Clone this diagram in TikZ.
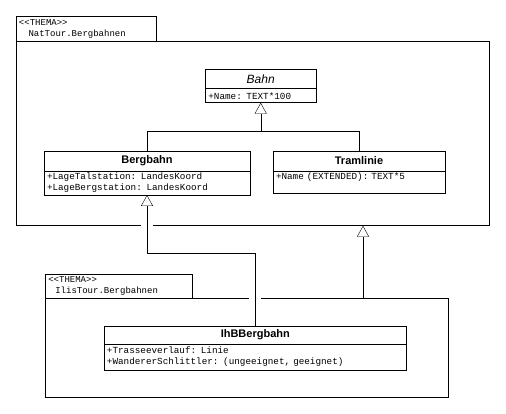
\documentclass[tikz,border=0pt]{standalone}
\usepackage{fontspec}
\setsansfont{Liberation Sans}
\setmonofont{Liberation Mono}
\usetikzlibrary{arrows.meta,positioning}
\pgfdeclarelayer{background}
\pgfdeclarelayer{wires}
\pgfsetlayers{background,wires,main}

\begin{document}
\begin{tikzpicture}[%
	x=1pt,y=-1pt,line width=1.3pt,>={Triangle[open,length=11pt,width=12pt]},
	every node/.style={outer sep=0pt},
	pkgtab/.style={draw,fill=white,anchor=north west,align=left,inner xsep=3pt,inner ysep=1pt,
		font=\ttfamily\fontsize{9}{10.7}\selectfont},
	pkgbody/.style={draw,fill=white,anchor=north west},
	classhead/.style={draw,fill=white,anchor=north,inner sep=0pt,
		font=\sffamily\bfseries\fontsize{11}{13}\selectfont},
	classattr/.style={draw,fill=white,align=left,inner xsep=3pt,inner ysep=1pt,
		font=\ttfamily\fontsize{9.3}{11}\selectfont},
	halo/.style={preaction={draw=white,line width=12pt,-}}]

	\useasboundingbox (0,0) rectangle (506,414);

	% packages
	\begin{pgfonlayer}{background}
	\fill[white] (0,0) rectangle (506,414);
	\node[pkgtab,text width=134pt,minimum height=24.3pt]	(NatTab)	at (16,16.7)
		{<{}<THEMA>{}>\\\hspace*{9.5pt}NatTour.Bergbahnen};
	\node[pkgbody,minimum width=473pt,minimum height=184.7pt]	(NatBody)	at (NatTab.south west) {};
	\node[pkgtab,text width=140.7pt,minimum height=24pt]	(IlisTab)	at (45.3,274)
		{<{}<THEMA>{}>\\\hspace*{7pt}IlisTour.Bergbahnen};
	\node[pkgbody,minimum width=402.7pt,minimum height=98.7pt]	(IlisBody)	at (IlisTab.south west) {};
	\end{pgfonlayer}

	% classes
	\node[classhead,minimum width=110.7pt,minimum height=19.4pt,
		font=\sffamily\itshape\fontsize{12}{14}\selectfont]	(Bahn)	at (260.7,69.3)	{Bahn};
	\node[classattr,text width=104.7pt,minimum height=14pt]	(BahnAttr)	[below=0pt of Bahn]
		{+Name: TEXT*100};

	\node[classhead,minimum width=206pt,minimum height=20pt]	(Bergbahn)	at (147,151)	{Bergbahn};
	\node[classattr,text width=200pt,minimum height=24pt]	(BergbahnAttr)	[below=0pt of Bergbahn]
		{+LageTalstation: LandesKoord\\+LageBergstation: LandesKoord};

	\node[classhead,minimum width=172pt,minimum height=20pt]	(Tramlinie)	at (359,151)	{Tramlinie};
	\node[classattr,text width=166pt,text height=8pt,text depth=12pt]	(TramlinieAttr)	[below=0pt of Tramlinie]
		{+Name (EXTENDED): TEXT*5};

	\node[classhead,minimum width=302.7pt,minimum height=18.3pt]	(IhBBergbahn)	at (255.3,325.7)	{IhBBergbahn};
	\node[classattr,text width=296.7pt,minimum height=26pt]	(IhBBergbahnAttr)	[below=0pt of IhBBergbahn]
		{+Trasseeverlauf: Linie\\+WandererSchlittler: (ungeeignet, geeignet)};

	% generalisations
	\begin{pgfonlayer}{wires}
	\coordinate (fork) at (BahnAttr.south |- 0,131.5);
	\coordinate (bend) at (BergbahnAttr.south |- 0,253);
	\draw[->] (Bergbahn.north) |- (fork) -- (BahnAttr.south);
	\draw (Tramlinie.north) |- (fork);
	\draw[->,halo] (IhBBergbahn.north) |- (bend) -- (BergbahnAttr.south);
	\draw[->] (IlisBody.north -| 363,0) -- (NatBody.south -| 363,0);
	\end{pgfonlayer}

\end{tikzpicture}
\end{document}
